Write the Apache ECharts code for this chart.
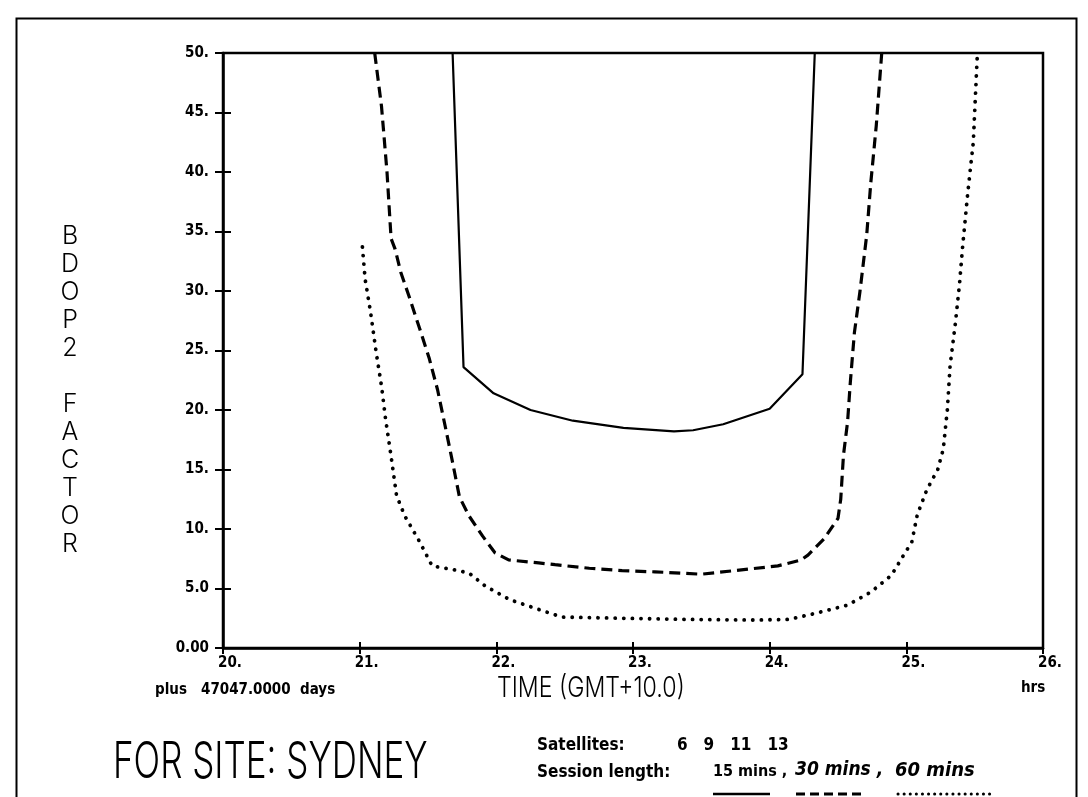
<!DOCTYPE html>
<html>
<head>
<meta charset="utf-8">
<title>BDOP2 factor - Sydney</title>
<script src="https://cdn.jsdelivr.net/npm/echarts@6/dist/echarts.min.js"></script>
<style>
  html, body { margin: 0; padding: 0; background: #fff; }
  #chart { width: 1088px; height: 797px; }
</style>
</head>
<body>
<div id="chart"></div>
<script>
// time in hours (plus 47047.0000 days), BDOP2 factor
var session15 = [
  [21.68, 50], [21.76, 23.6], [21.98, 21.4], [22.25, 20.0], [22.56, 19.1],
  [22.93, 18.5], [23.30, 18.2], [23.44, 18.3], [23.66, 18.8], [24.00, 20.1],
  [24.24, 23.0], [24.33, 50]
];
var session30 = [
  [21.11, 50], [21.16, 45.5], [21.20, 40.0], [21.23, 34.4], [21.26, 33.5],
  [21.30, 31.6], [21.36, 29.6], [21.44, 26.8], [21.51, 24.3], [21.57, 21.7],
  [21.63, 18.4], [21.68, 15.6], [21.73, 12.7], [21.80, 11.1], [21.90, 9.4],
  [21.99, 8.0], [22.09, 7.4], [22.31, 7.15], [22.43, 7.0], [22.68, 6.7],
  [22.92, 6.5], [23.16, 6.4], [23.50, 6.2], [23.74, 6.5], [24.06, 6.9],
  [24.23, 7.4], [24.28, 7.8], [24.40, 9.2], [24.50, 10.9], [24.52, 12.5],
  [24.54, 16.2], [24.57, 19.0], [24.59, 22.3], [24.62, 26.5], [24.66, 29.9],
  [24.71, 34.7], [24.74, 39.1], [24.78, 43.9], [24.82, 50]
];
var session60 = [
  [21.02, 33.7], [21.04, 31.0], [21.08, 28.2], [21.12, 24.9], [21.16, 22.0],
  [21.19, 19.2], [21.23, 16.1], [21.27, 12.8], [21.33, 11.1], [21.44, 8.9],
  [21.53, 6.9], [21.68, 6.6], [21.80, 6.3], [21.92, 5.2], [22.10, 4.05],
  [22.32, 3.2], [22.48, 2.6], [22.92, 2.5], [23.41, 2.4], [23.89, 2.35],
  [24.14, 2.4], [24.33, 2.9], [24.57, 3.6], [24.74, 4.7], [24.89, 6.1],
  [24.98, 7.8], [25.04, 8.9], [25.08, 11.2], [25.15, 13.3], [25.23, 15.0],
  [25.27, 16.7], [25.30, 20.0], [25.32, 23.7], [25.36, 27.4], [25.39, 30.7],
  [25.41, 33.5], [25.45, 38.3], [25.49, 42.5], [25.52, 50]
];
var xTickLabels = ['20.', '21.', '22.', '23.', '24.', '25.', '26.'];
var yTickLabels = ['0.00', '5.0', '10.', '15.', '20.', '25.', '30.', '35.', '40.', '45.', '50.'];
var satellites = [6, 9, 11, 13];
var sessionNames = ['15 mins', '30 mins', '60 mins'];

var tickFont = "'DejaVu Sans Condensed', 'DejaVu Sans', sans-serif";
// plotter-like thin lettering for the titles
var thinFont = "Inter, Lato, 'Open Sans', 'DejaVu Sans', sans-serif";

var chart = echarts.init(document.getElementById('chart'));

// axes drawn twice: once with outward ticks, once with inward ticks -> cross ticks
function xAxisCfg(inside) {
  return {
    type: 'value', position: 'bottom', min: 20, max: 26, interval: 1,
    axisLine: { show: !inside, lineStyle: { color: '#000', width: 2.5 } },
    axisTick: { show: true, inside: inside, length: 6, lineStyle: { color: '#000', width: 2 } },
    axisLabel: {
      show: !inside, margin: 8, color: '#000', fontFamily: tickFont, fontWeight: 'bold', fontSize: 15,
      padding: [0, 0, 0, 14],
      formatter: function (v) { return xTickLabels[Math.round(v - 20)]; }
    },
    splitLine: { show: false }
  };
}
function yAxisCfg(inside) {
  return {
    type: 'value', position: 'left', min: 0, max: 50, interval: 5,
    axisLine: { show: !inside, lineStyle: { color: '#000', width: 2.5 } },
    axisTick: { show: true, inside: inside, length: 8, lineStyle: { color: '#000', width: 2 } },
    axisLabel: {
      show: !inside, margin: 14, color: '#000', fontFamily: tickFont, fontWeight: 'bold', fontSize: 15,
      formatter: function (v) { return yTickLabels[Math.round(v / 5)]; }
    },
    splitLine: { show: false }
  };
}

var legendY = 776;
chart.setOption({
  backgroundColor: '#fff',
  animation: false,
  grid: {
    left: 223, right: 45, top: 53, bottom: 149,
    show: true, borderColor: '#000', borderWidth: 2.5, backgroundColor: 'transparent'
  },
  xAxis: [xAxisCfg(false), xAxisCfg(true)],
  yAxis: [yAxisCfg(false), yAxisCfg(true)],
  series: [
    {
      name: sessionNames[0], type: 'line', data: session15, showSymbol: false, clip: true,
      lineStyle: { color: '#000', width: 2.2, type: 'solid' }
    },
    {
      name: sessionNames[1], type: 'line', data: session30, showSymbol: false, clip: true,
      lineStyle: { color: '#000', width: 3.2, type: [11, 6] }
    },
    {
      name: sessionNames[2], type: 'line', data: session60, showSymbol: false, clip: true,
      lineStyle: { color: '#000', width: 3.8, type: [0.1, 8.5], cap: 'round' }
    }
  ],
  graphic: [
    // outer frame of the sheet
    { type: 'rect', left: 14, top: 16, silent: true,
      shape: { width: 1060, height: 800 },
      style: { fill: 'none', stroke: '#000', lineWidth: 2 } },
    // vertical axis title
    { type: 'text', x: 70, y: 222,
      style: { text: 'B\nD\nO\nP\n2\n\nF\nA\nC\nT\nO\nR', fill: '#000', font: '300 25px ' + thinFont,
        lineHeight: 28, align: 'center' } },
    // horizontal axis title
    { type: 'text', x: 497, y: 674, scaleX: 0.8,
      style: { text: 'TIME (GMT+10.0)', fill: '#000', font: '300 29px ' + thinFont } },
    { type: 'text', x: 155, y: 683,
      style: { text: 'plus   47047.0000  days', fill: '#000', font: 'bold 15px ' + tickFont } },
    { type: 'text', x: 1021, y: 681,
      style: { text: 'hrs', fill: '#000', font: 'bold 15px ' + tickFont } },
    { type: 'text', x: 113, y: 738, scaleX: 0.7,
      style: { text: 'FOR SITE: SYDNEY', fill: '#000', font: '300 50px ' + thinFont } },
    { type: 'text', x: 537, y: 737,
      style: { text: 'Satellites:', fill: '#000', font: 'bold 17px ' + tickFont } },
    { type: 'text', x: 677, y: 737,
      style: { text: satellites.join('   '), fill: '#000', font: 'bold 17px ' + tickFont } },
    { type: 'text', x: 537, y: legendY - 12,
      style: { text: 'Session length:', fill: '#000', font: 'bold 17px ' + tickFont } },
    { type: 'text', x: 713, y: legendY - 12,
      style: { text: sessionNames[0] + ' ,', fill: '#000', font: 'bold 16px ' + tickFont } },
    { type: 'text', x: 795, y: legendY - 15,
      style: { text: sessionNames[1] + ' ,', fill: '#000', font: 'italic bold 19px ' + tickFont } },
    { type: 'text', x: 895, y: legendY - 15,
      style: { text: sessionNames[2], fill: '#000', font: 'italic bold 20px ' + tickFont } },
    // line style keys under the session names
    { type: 'line', shape: { x1: 713, y1: 794, x2: 770, y2: 794 },
      style: { stroke: '#000', lineWidth: 2.5 } },
    { type: 'line', shape: { x1: 796, y1: 794, x2: 866, y2: 794 },
      style: { stroke: '#000', lineWidth: 3, lineDash: [9, 5] } },
    { type: 'line', shape: { x1: 898, y1: 794, x2: 990, y2: 794 },
      style: { stroke: '#000', lineWidth: 3, lineDash: [0.1, 6], lineCap: 'round' } }
  ]
});
</script>
</body>
</html>
